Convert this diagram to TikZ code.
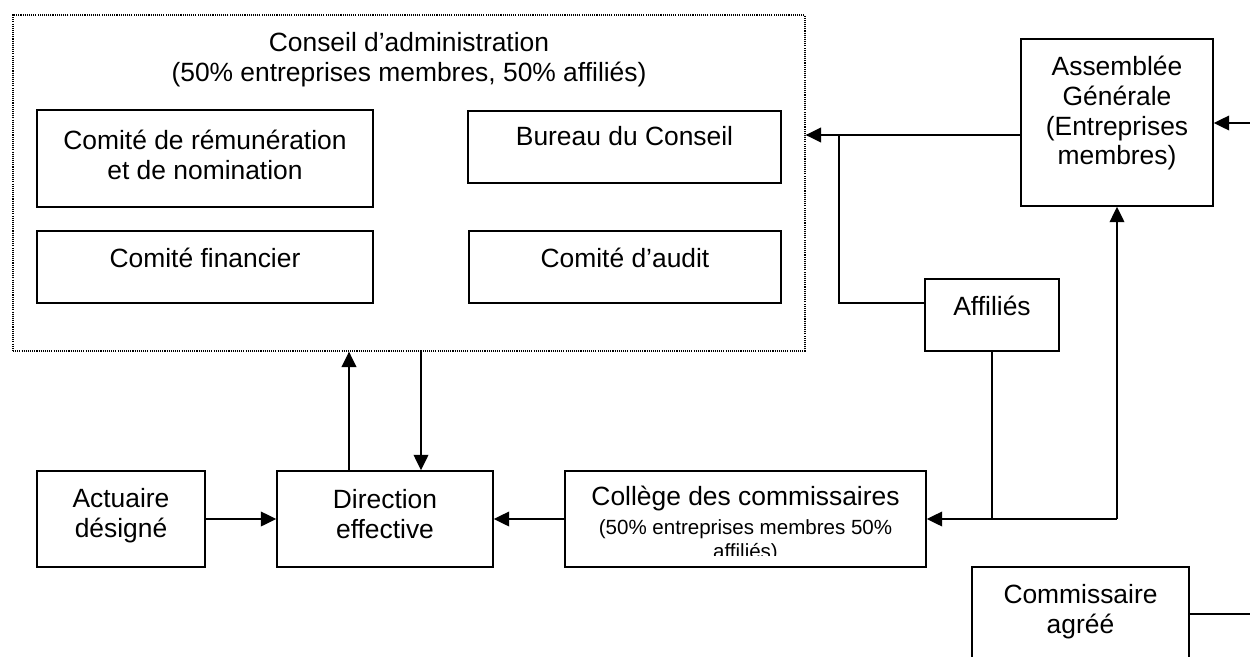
\documentclass[tikz,border=0pt]{standalone}
\usepackage{fontspec}
\setmainfont{Liberation Sans}
\usetikzlibrary{arrows.meta,fit,calc}
\newcommand\myfirstA{\rule{0pt}{19pt}}
\newcommand\myfirstB{\rule{0pt}{15pt}}
\begin{document}
\begin{tikzpicture}[x=0.75pt,y=-0.75pt,
  box/.style={draw, line width=1.2pt, inner sep=0pt},
  dotbox/.style={draw, line width=1pt, dash pattern=on 0.8pt off 0.8pt, inner sep=0pt},
  txt/.style={anchor=north, inner sep=0pt, align=center, font=\fontsize{19.8pt}{22.4pt}\selectfont},
  smalltxt/.style={anchor=north, inner sep=0pt, align=center, font=\fontsize{15.4pt}{18pt}\selectfont},
  link/.style={line width=1.2pt},
  arrow/.style={link, -{Triangle[length=11.5pt,width=11pt]}},
]
\useasboundingbox (0,0) rectangle (1250,657);
\clip (0,0) rectangle (1250,657);

% Conseil d'administration (dotted frame)
\node[dotbox, fit={(13,15) (805,351)}] (conseil) {};
\node[txt] (conseil-t) at (409,25.7) {\myfirstA Conseil d’administration\\(50\% entreprises membres, 50\% affiliés)};

\node[box, fit={(37,110) (373,207)}] (rem) {};
\node[txt] (rem-t) at (205,123.7) {\myfirstA Comité de rémunération\\et de nomination};

\node[box, fit={(468,111) (781,183)}] (bureau) {};
\node[txt] (bureau-t) at (624.5,119.7) {\myfirstA Bureau du Conseil};

\node[box, fit={(37,231) (373,303)}] (fin) {};
\node[txt] (fin-t) at (205,241.7) {\myfirstA Comité financier};

\node[box, fit={(469,231) (781,303)}] (audit) {};
\node[txt] (audit-t) at (625,241.7) {\myfirstA Comité d’audit};

% Assemblée Générale
\node[box, fit={(1021,39) (1213,206)}] (ag) {};
\node[txt] (ag-t) at (1117,49.7) {\myfirstA Assemblée\\Générale\\(Entreprises\\membres)};

% Affiliés
\node[box, fit={(925,279) (1059,351)}] (affil) {};
\node[txt] (affil-t) at (992,289.7) {\myfirstA Affiliés};

% Actuaire désigné
\node[box, fit={(37,471) (205,567)}] (act) {};
\node[txt] (act-t) at (121,481.7) {\myfirstA Actuaire\\désigné};

% Direction effective
\node[box, fit={(277,471) (493,567)}] (dir) {};
\node[txt] (dir-t) at (385,482.7) {\myfirstA Direction\\effective};

% Collège des commissaires
\node[box, fit={(565,471) (926,567)}] (col) {};
\node[txt] (col-t) at (745.5,479.7) {\myfirstA Collège des commissaires};
\begin{scope}
\clip (565,471) rectangle (926,555);
\node[smalltxt] (col-s) at (745.5,514) {\myfirstB(50\% entreprises membres 50\%\\affiliés)};
\end{scope}

% Commissaire agréé
\node[box, fit={(972,567) (1189,700)}] (ca) {};
\node[txt] (ca-t) at (1080.5,577.7) {\myfirstA Commissaire\\agréé};

% free ends and junctions
\coordinate (rin) at (1250,123);
\coordinate (rout) at (1250,614);
\coordinate (j1) at (839,135);
\coordinate (j2) at (839,303);
\coordinate (dl) at ($(dir.north)+(-36,0)$);
\coordinate (dr) at ($(dir.north)+(36,0)$);

% connectors
\draw[arrow] (rin) -- (ag.east |- rin);
\draw[arrow] (ag.west |- j1) -- (conseil.east |- j1);
\draw[link] (affil.west |- j2) -- (j2) -- (j1);
\draw[link] (affil.south) -- (affil.south |- col.east);
\draw[arrow] (ag.south |- col.east) -- (col.east);
\draw[arrow] (ag.south |- col.east) -- (ag.south);
\draw[arrow] (dl) -- (dl |- conseil.south);
\draw[arrow] (dr |- conseil.south) -- (dr);
\draw[arrow] (act.east) -- (dir.west);
\draw[arrow] (col.west) -- (dir.east);
\draw[link] (ca.east |- rout) -- (rout);
\end{tikzpicture}
\end{document}
